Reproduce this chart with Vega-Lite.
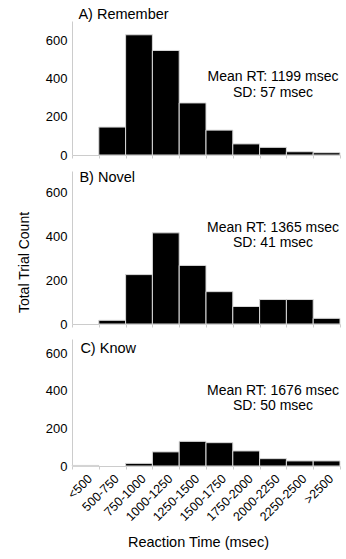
{
  "$schema": "https://vega.github.io/schema/vega-lite/v6.json",
  "padding": {"left": 17, "top": 7, "right": 1, "bottom": 5},
  "background": "white",
  "config": {
    "font": "Liberation Sans",
    "view": {"stroke": null},
    "concat": {"spacing": 8},
    "axis": {"labelColor": "black", "titleColor": "black", "titleFontWeight": "normal", "domainColor": "#cccccc", "tickColor": "#cccccc", "grid": false}
  },
  "datasets": {
    "rt": [
      {"panel": "A", "bin": "500-750", "count": 146},
      {"panel": "A", "bin": "750-1000", "count": 628},
      {"panel": "A", "bin": "1000-1250", "count": 546},
      {"panel": "A", "bin": "1250-1500", "count": 272},
      {"panel": "A", "bin": "1500-1750", "count": 130},
      {"panel": "A", "bin": "1750-2000", "count": 58},
      {"panel": "A", "bin": "2000-2250", "count": 40},
      {"panel": "A", "bin": "2250-2500", "count": 17},
      {"panel": "A", "bin": ">2500", "count": 12},
      {"panel": "B", "bin": "500-750", "count": 17},
      {"panel": "B", "bin": "750-1000", "count": 226},
      {"panel": "B", "bin": "1000-1250", "count": 417},
      {"panel": "B", "bin": "1250-1500", "count": 268},
      {"panel": "B", "bin": "1500-1750", "count": 148},
      {"panel": "B", "bin": "1750-2000", "count": 80},
      {"panel": "B", "bin": "2000-2250", "count": 112},
      {"panel": "B", "bin": "2250-2500", "count": 112},
      {"panel": "B", "bin": ">2500", "count": 26},
      {"panel": "C", "bin": "<500", "count": 3},
      {"panel": "C", "bin": "750-1000", "count": 14},
      {"panel": "C", "bin": "1000-1250", "count": 75},
      {"panel": "C", "bin": "1250-1500", "count": 131},
      {"panel": "C", "bin": "1500-1750", "count": 124},
      {"panel": "C", "bin": "1750-2000", "count": 80},
      {"panel": "C", "bin": "2000-2250", "count": 39},
      {"panel": "C", "bin": "2250-2500", "count": 27},
      {"panel": "C", "bin": ">2500", "count": 27}
    ]
  },
  "vconcat": [
    {
      "width": 268,
      "height": 134,
      "layer": [
        {
          "data": {"name": "rt"},
          "transform": [{"filter": "datum.panel === 'A'"}],
          "mark": {"type": "bar", "color": "black", "stroke": "#d9d9d9", "strokeWidth": 1},
          "encoding": {
            "x": {"field": "bin", "type": "ordinal", "scale": {"domain": ["<500", "500-750", "750-1000", "1000-1250", "1250-1500", "1500-1750", "1750-2000", "2000-2250", "2250-2500", ">2500"], "paddingInner": 0, "paddingOuter": 0}, "axis": {"labels": false, "title": null, "tickSize": 3, "tickBand": "extent"}},
            "y": {"field": "count", "type": "quantitative", "scale": {"domain": [0, 700], "nice": false}, "axis": {"values": [0, 200, 400, 600], "tickSize": 0, "labelPadding": 5, "labelFontSize": 13, "title": null}}
          }
        },
        {
          "data": {"values": [{}]},
          "mark": {"type": "text", "text": "A) Remember", "fontSize": 14.5, "align": "left", "baseline": "middle", "dx": -7, "color": "black"},
          "encoding": {"x": {"datum": "<500", "type": "ordinal"}, "y": {"datum": 731, "type": "quantitative"}}
        },
        {
          "data": {"values": [{}]},
          "mark": {"type": "text", "text": ["Mean RT: 1199 msec", "SD: 57 msec"], "fontSize": 14, "lineHeight": 16, "align": "center", "baseline": "middle", "color": "black"},
          "encoding": {"x": {"datum": "2000-2250", "type": "ordinal"}, "y": {"datum": 410, "type": "quantitative"}}
        }
      ]
    },
    {
      "width": 268,
      "height": 153,
      "layer": [
        {
          "data": {"name": "rt"},
          "transform": [{"filter": "datum.panel === 'B'"}],
          "mark": {"type": "bar", "color": "black", "stroke": "#d9d9d9", "strokeWidth": 1},
          "encoding": {
            "x": {"field": "bin", "type": "ordinal", "scale": {"domain": ["<500", "500-750", "750-1000", "1000-1250", "1250-1500", "1500-1750", "1750-2000", "2000-2250", "2250-2500", ">2500"], "paddingInner": 0, "paddingOuter": 0}, "axis": {"labels": false, "title": null, "tickSize": 3, "tickBand": "extent"}},
            "y": {"field": "count", "type": "quantitative", "scale": {"domain": [0, 700], "nice": false}, "axis": {"values": [0, 200, 400, 600], "tickSize": 0, "labelPadding": 5, "labelFontSize": 13, "title": "Total Trial Count", "titleFontSize": 14, "titlePadding": 14, "titleY": 91}}
          }
        },
        {
          "data": {"values": [{}]},
          "mark": {"type": "text", "text": "B) Novel", "fontSize": 14.5, "align": "left", "baseline": "middle", "dx": -6, "color": "black"},
          "encoding": {"x": {"datum": "<500", "type": "ordinal"}, "y": {"datum": 667, "type": "quantitative"}}
        },
        {
          "data": {"values": [{}]},
          "mark": {"type": "text", "text": ["Mean RT: 1365 msec", "SD: 41 msec"], "fontSize": 14, "lineHeight": 15, "align": "center", "baseline": "middle", "color": "black"},
          "encoding": {"x": {"datum": "2000-2250", "type": "ordinal"}, "y": {"datum": 439, "type": "quantitative"}}
        }
      ]
    },
    {
      "width": 268,
      "height": 127,
      "layer": [
        {
          "data": {"name": "rt"},
          "transform": [{"filter": "datum.panel === 'C'"}],
          "mark": {"type": "bar", "color": "black", "stroke": "#d9d9d9", "strokeWidth": 1},
          "encoding": {
            "x": {"field": "bin", "type": "ordinal", "scale": {"domain": ["<500", "500-750", "750-1000", "1000-1250", "1250-1500", "1500-1750", "1750-2000", "2000-2250", "2250-2500", ">2500"], "paddingInner": 0, "paddingOuter": 0}, "axis": {"labelAngle": -45, "labelFontSize": 12.5, "labelPadding": 3, "tickSize": 3, "tickBand": "extent", "title": "Reaction Time (msec)", "titleFontSize": 14.5, "titlePadding": 12, "titleX": 126}},
            "y": {"field": "count", "type": "quantitative", "scale": {"domain": [0, 675], "nice": false}, "axis": {"values": [0, 200, 400, 600], "tickSize": 0, "labelPadding": 5, "labelFontSize": 13, "title": null}}
          }
        },
        {
          "data": {"values": [{}]},
          "mark": {"type": "text", "text": "C) Know", "fontSize": 14.5, "align": "left", "baseline": "middle", "dx": -5, "color": "black"},
          "encoding": {"x": {"datum": "<500", "type": "ordinal"}, "y": {"datum": 624, "type": "quantitative"}}
        },
        {
          "data": {"values": [{}]},
          "mark": {"type": "text", "text": ["Mean RT: 1676 msec", "SD: 50 msec"], "fontSize": 14, "lineHeight": 15, "align": "center", "baseline": "middle", "color": "black"},
          "encoding": {"x": {"datum": "2000-2250", "type": "ordinal"}, "y": {"datum": 396, "type": "quantitative"}}
        }
      ]
    }
  ]
}
